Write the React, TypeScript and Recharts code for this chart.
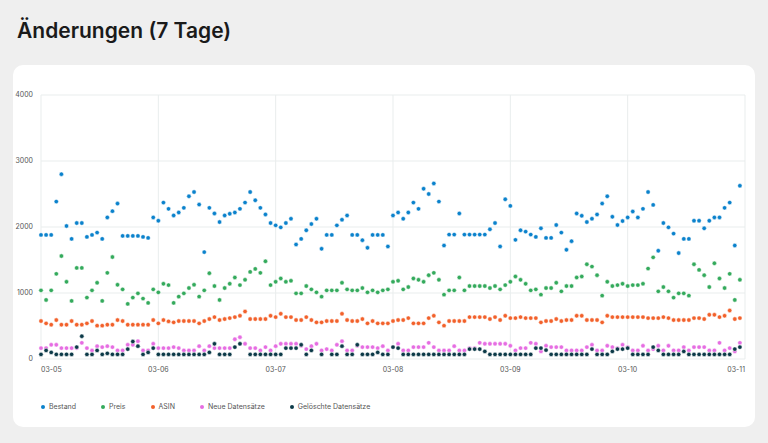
import React from 'react';
import {
    ScatterChart,
    Scatter,
    XAxis,
    YAxis,
    CartesianGrid,
} from 'recharts';

// one value per ~hour, 23 steps per day, 03-05 .. 03-10
const dayLabels = ['03-05', '03-06', '03-07', '03-08', '03-09', '03-10', '03-11'];
const dayTicks = [0, 23, 46, 69, 92, 115, 138];
const yTicks = [0, 1000, 2000, 3000, 4000];

const bestand = [
    1880, 1880, 1880, 2385, 2800, 2015, 1820, 2060, 2060, 1850, 1880, 1915, 1820, 2145, 2240, 2355, 1865, 1865, 1865, 1865, 1850, 1835, 2145,
    2095, 2370, 2275, 2175, 2220, 2290, 2465, 2530, 2340, 1620, 2290, 2205, 2075, 2175, 2200, 2220, 2275, 2370, 2530, 2405, 2290, 2190, 2060,
    2025, 1995, 2060, 2125, 1735, 1820, 1950, 2045, 2125, 1670, 1880, 1880, 2025, 2110, 2175, 1880, 1880, 1800, 1685, 1880, 1880, 1880, 1705,
    2175, 2220, 2125, 2220, 2370, 2275, 2580, 2500, 2660, 2385, 1720, 1885, 1885, 2205, 1885, 1885, 1885, 1885, 1885, 1965, 2060, 1705, 2420,
    2320, 1805, 1950, 1930, 1885, 1850, 1980, 1835, 1835, 2030, 1915, 1655, 1785, 2205, 2170, 2075, 2125, 2190, 2355, 2465, 2155, 2030, 2090,
    2145, 2235, 2145, 2275, 2530, 2335, 1640, 2060, 1995, 1900, 1605, 1820, 1820, 2095, 2095, 1980, 2095, 2145, 2145, 2290, 2370, 1720, 2625,
];

const preis = [
    1040, 895, 1040, 1290, 1560, 1170, 880, 1380, 1380, 930, 1040, 1155, 880, 1305, 1545, 1125, 1055, 835, 930, 995, 915, 850, 1055,
    1010, 1140, 1120, 850, 945, 995, 1075, 1125, 945, 1040, 1300, 1105, 895, 1075, 1140, 1235, 1120, 1200, 1320, 1365, 1305, 1480, 1120,
    1170, 1220, 1170, 1185, 995, 995, 1105, 1055, 1010, 945, 1040, 1040, 1040, 1155, 1055, 1040, 1040, 1075, 1010, 1040, 1010, 1040, 1055,
    1170, 1185, 1055, 1090, 1220, 1200, 1170, 1270, 1305, 1200, 975, 1040, 1040, 1235, 1040, 1105, 1105, 1105, 1105, 1075, 1105, 1055, 1120,
    1170, 1250, 1200, 1140, 1040, 1055, 975, 1075, 1075, 1155, 1025, 1105, 1105, 1235, 1250, 1435, 1400, 1270, 960, 1170, 1105, 1120, 1140,
    1105, 1120, 1120, 1140, 1370, 1540, 1025, 1090, 1025, 930, 995, 995, 960, 1435, 1350, 1270, 1090, 1450, 1220, 1075, 1290, 895, 1200,
];

const asin = [
    575, 540, 520, 590, 520, 520, 575, 520, 520, 540, 575, 505, 505, 520, 520, 590, 575, 520, 520, 520, 520, 520, 590,
    540, 590, 570, 555, 575, 575, 575, 575, 540, 575, 605, 635, 590, 605, 620, 635, 655, 720, 605, 605, 605, 605, 655,
    635, 685, 635, 635, 590, 590, 635, 590, 555, 555, 575, 575, 575, 685, 590, 575, 575, 605, 540, 575, 540, 540, 540,
    575, 590, 590, 620, 540, 540, 540, 620, 655, 555, 505, 575, 575, 575, 575, 635, 635, 635, 635, 605, 635, 590, 655,
    620, 620, 635, 620, 620, 620, 555, 575, 575, 605, 575, 590, 590, 655, 655, 590, 590, 590, 555, 655, 635, 635, 635,
    635, 635, 635, 635, 620, 620, 620, 635, 620, 590, 590, 590, 590, 620, 620, 605, 670, 670, 635, 655, 735, 605, 620,
];

const neue = [
    165, 165, 215, 215, 165, 165, 165, 165, 245, 165, 130, 195, 180, 195, 180, 130, 130, 215, 215, 270, 130, 130, 230,
    165, 165, 165, 180, 165, 130, 130, 130, 195, 130, 195, 165, 165, 165, 165, 300, 330, 230, 165, 165, 130, 180, 130,
    195, 230, 230, 230, 230, 200, 150, 195, 230, 130, 150, 130, 215, 270, 130, 130, 200, 180, 180, 180, 165, 195, 130,
    180, 230, 130, 130, 180, 180, 180, 245, 180, 130, 130, 130, 195, 130, 130, 165, 165, 245, 230, 230, 230, 230, 230,
    200, 130, 165, 165, 245, 230, 115, 200, 180, 180, 180, 130, 130, 130, 130, 180, 215, 130, 130, 200, 180, 165, 215,
    180, 130, 130, 200, 130, 150, 200, 130, 200, 130, 130, 180, 130, 180, 180, 180, 130, 130, 245, 130, 165, 115, 245,
];

const geloescht = [
    70, 130, 100, 70, 70, 70, 70, 180, 345, 70, 70, 130, 70, 85, 70, 70, 70, 150, 265, 195, 70, 100, 165,
    70, 70, 70, 70, 70, 70, 70, 70, 70, 70, 100, 230, 70, 70, 70, 180, 230, null, 70, 70, 70, 70, 70,
    70, 70, 165, 165, 165, 215, 70, 130, null, 70, null, 70, 70, 195, 70, 70, 215, 70, 70, 70, 100, 70, 70,
    180, 165, 70, 70, 70, 70, 70, 70, 70, 70, 70, 70, 70, 70, 70, 150, 150, 150, 115, 70, 70, 70, 70,
    70, 70, 70, 70, 70, 165, 165, 135, 70, 70, 70, 70, 70, 70, 70, 70, 150, 70, 70, 70, 115, 150, 150,
    165, 70, 70, 70, 70, 180, 130, 70, 70, 70, 70, 115, 70, 70, 70, 70, 70, 70, 70, 70, 70, 150, 180,
];

const series = [
    { label: 'Bestand', color: '#0b82cc', values: bestand },
    { label: 'Preis', color: '#34aa5c', values: preis },
    { label: 'ASIN', color: '#f2612b', values: asin },
    { label: 'Neue Datensätze', color: '#e66de2', values: neue },
    { label: 'Gelöschte Datensätze', color: '#0c3a48', values: geloescht },
];

const font = 'Inter, "Noto Sans", sans-serif';

const toPoints = (values: (number | null)[]) =>
    values
        .map((v, i) => ({ x: i, y: v }))
        .filter((p) => p.y !== null);

const DayTick = (props: any) => {
    const { x, y, payload } = props;
    const idx = dayTicks.indexOf(payload.value);
    let anchor = 'middle';
    if (idx === 0) anchor = 'start';
    if (idx === dayTicks.length - 1) anchor = 'end';
    return (
        <text x={x} y={y} dy="0.71em" textAnchor={anchor} fontSize={7} fill="#555" fontFamily={font}>
            {dayLabels[idx]}
        </text>
    );
};

const dotShape = (color: string) => (props: any) => (
    <circle cx={props.cx} cy={props.cy} r={2.2} fill={color} stroke="#fff" strokeWidth={0.5} />
);

const App = () => {
    return (
        <div
            style={{
                position: 'absolute',
                left: 0,
                top: 0,
                width: 768,
                height: 443,
                background: '#efefef',
                fontFamily: font,
            }}
        >
            <div
                style={{
                    position: 'absolute',
                    left: 17,
                    top: 17,
                    fontSize: 21,
                    lineHeight: '28px',
                    fontWeight: 600,
                    color: '#1a1a1a',
                }}
            >
                Änderungen (7 Tage)
            </div>
            <div
                style={{
                    position: 'absolute',
                    left: 13,
                    top: 65,
                    width: 742,
                    height: 362,
                    background: '#fff',
                    borderRadius: 10,
                }}
            >
                <ScatterChart
                    width={742}
                    height={362}
                    margin={{ top: 30, right: 10, left: 0, bottom: 48 }}
                >
                    <CartesianGrid stroke="#e9eded" />
                    <XAxis
                        type="number"
                        dataKey="x"
                        domain={[0, 138]}
                        ticks={dayTicks}
                        interval={0}
                        height={20}
                        axisLine={false}
                        tickLine={false}
                        tick={<DayTick />}
                    />
                    <YAxis
                        type="number"
                        dataKey="y"
                        domain={[0, 4000]}
                        ticks={yTicks}
                        width={28}
                        axisLine={false}
                        tickLine={false}
                        tick={{ fontSize: 7, fill: '#555', fontFamily: font }}
                    />
                    {series.map((s) => (
                        <Scatter
                            key={s.label}
                            name={s.label}
                            data={toPoints(s.values)}
                            fill={s.color}
                            shape={dotShape(s.color)}
                            isAnimationActive={false}
                        />
                    ))}
                </ScatterChart>
                <div
                    style={{
                        position: 'absolute',
                        left: 28,
                        top: 337,
                        display: 'flex',
                        gap: 25,
                        fontSize: 7,
                        color: '#555',
                        alignItems: 'center',
                    }}
                >
                    {series.map((s) => (
                        <div key={s.label} style={{ display: 'flex', alignItems: 'center' }}>
                            <span
                                style={{
                                    width: 4,
                                    height: 4,
                                    borderRadius: 2,
                                    background: s.color,
                                    marginRight: 4,
                                }}
                            />
                            {s.label}
                        </div>
                    ))}
                </div>
            </div>
        </div>
    );
};

export default App;
